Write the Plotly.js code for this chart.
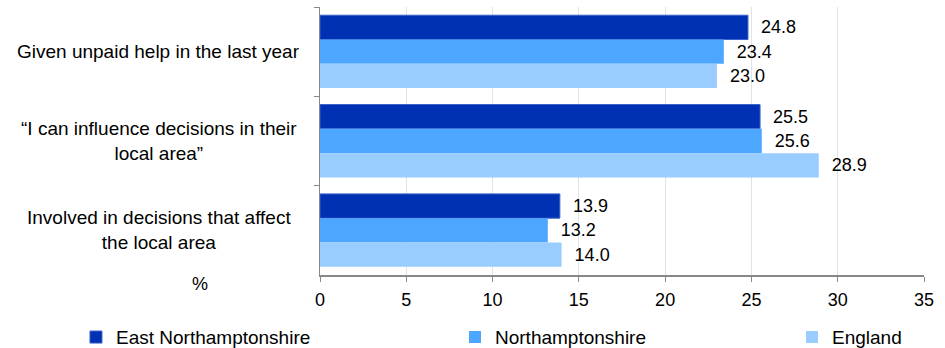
<!DOCTYPE html>
<html>
<head>
<meta charset="utf-8">
<script src="https://cdn.plot.ly/plotly-3.0.1.min.js"></script>
<style>html,body{margin:0;padding:0;background:#fff;}#chart{width:945px;height:348px;}</style>
</head>
<body>
<div id="chart"></div>
<script>
const categories = ["Given unpaid help in the last year", "“I can influence decisions in their local area”", "Involved in decisions that affect the local area"];
const categoryLabels = ["Given unpaid help in the last year", "“I can influence decisions in their<br>local area”", "Involved in decisions that affect<br>the local area"];
const seriesNames = ["East Northamptonshire", "Northamptonshire", "England"];
const eastNorthants = [24.8, 25.5, 13.9];
const northants = [23.4, 25.6, 13.2];
const england = [23.0, 28.9, 14.0];
const xTicks = [0, 5, 10, 15, 20, 25, 30, 35];

const colors = ["#0031b3", "#4da6ff", "#99ccff"];
const lineColors = ["#3a62c8", "#4da6ff", "#99ccff"];
const legendIds = ["legend", "legend2", "legend3"];
const values = [eastNorthants, northants, england];
const FONT = "Liberation Sans, Arial, sans-serif";

const traces = values.map((v, i) => ({
  type: "bar",
  orientation: "h",
  name: seriesNames[i],
  x: v,
  y: categories,
  marker: {color: colors[i], line: {color: lineColors[i], width: i === 0 ? 1 : 0}},
  text: v.map(d => d.toFixed(1)),
  texttemplate: "\u00a0\u00a0%{text}",
  textposition: "outside",
  textfont: {family: FONT, size: 18, color: "#000"},
  cliponaxis: false,
  legend: legendIds[i],
  hoverinfo: "x+name"
}));

const annotations = categories.map((c, i) => ({
  xref: "paper", yref: "y",
  x: -0.2666, y: c,
  xanchor: "center", yanchor: "middle",
  text: categoryLabels[i],
  showarrow: false,
  align: "center",
  font: {family: FONT, size: 19, color: "#000"}
}));
annotations.push({
  xref: "paper", yref: "paper",
  x: -0.199, y: -0.035,
  xanchor: "center", yanchor: "middle",
  text: "%", showarrow: false,
  font: {family: FONT, size: 18, color: "#000"}
});

const legendBase = {
  orientation: "h",
  yref: "container", yanchor: "middle", y: 0.031,
  xanchor: "left",
  font: {family: FONT, size: 19, color: "#000"},
  bgcolor: "rgba(0,0,0,0)",
  borderwidth: 0,
  itemclick: false
};

const layout = {
  width: 945, height: 348,
  margin: {l: 320, r: 21, t: 7, b: 73, autoexpand: false},
  paper_bgcolor: "#fff",
  plot_bgcolor: "#fff",
  barmode: "group",
  bargap: 0.184,
  bargroupgap: 0,
  font: {family: FONT, size: 18, color: "#000"},
  xaxis: {
    range: [0, 35],
    tickvals: xTicks,
    ticktext: xTicks.map(String),
    showgrid: true,
    gridcolor: "#e3e3e3",
    gridwidth: 1,
    zeroline: false,
    showline: true,
    linecolor: "#888",
    linewidth: 1.5,
    ticks: "outside",
    ticklen: 5,
    tickcolor: "#888",
    ticklabelstandoff: 3,
    tickfont: {family: FONT, size: 18, color: "#000"},
    fixedrange: true
  },
  yaxis: {
    type: "category",
    categoryorder: "array",
    categoryarray: categories,
    autorange: "reversed",
    showticklabels: false,
    ticks: "outside",
    tickson: "boundaries",
    ticklen: 5,
    tickcolor: "#888",
    showline: true,
    linecolor: "#888",
    linewidth: 1.5,
    showgrid: false,
    zeroline: false,
    fixedrange: true
  },
  showlegend: true,
  legend: Object.assign({}, legendBase, {x: -0.404}),
  legend2: Object.assign({}, legendBase, {x: 0.2235}),
  legend3: Object.assign({}, legendBase, {x: 0.7815}),
  annotations: annotations
};

Plotly.newPlot("chart", traces, layout, {displayModeBar: false, staticPlot: true});
</script>
</body>
</html>
